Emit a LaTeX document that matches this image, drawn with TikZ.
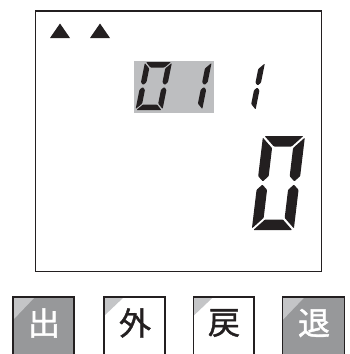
\documentclass[tikz,border=0pt]{standalone}
\usepackage{fontspec}
\newfontfamily\jpfont{Noto Sans CJK JP}[FakeBold=1.3]
\definecolor{lcdgray}{HTML}{BDBEC0}
\definecolor{keygray}{HTML}{97989A}
\definecolor{tabgray}{HTML}{C4C5C7}
\definecolor{inkblack}{HTML}{231F20}

% segmentos del digito (coordenadas locales, y hacia abajo)
\newcommand{\segA}{\fill[seg] (\sg,0) -- (\dw-\sg,0) -- (\dw-\dt-\sg,\dt) -- (\dt+\sg,\dt) -- cycle;}
\newcommand{\segB}{\fill[seg] (\dw,\sg) -- (\dw,\dh/2-\sg-\dt/2) -- (\dw-\dt/2,\dh/2-\sg) -- (\dw-\dt,\dh/2-\sg-\dt/2) -- (\dw-\dt,\dt+\sg) -- cycle;}
\newcommand{\segC}{\fill[seg] (\dw-\dt/2,\dh/2+\sg) -- (\dw,\dh/2+\sg+\dt/2) -- (\dw,\dh-\sg) -- (\dw-\dt,\dh-\dt-\sg) -- (\dw-\dt,\dh/2+\sg+\dt/2) -- cycle;}
\newcommand{\segD}{\fill[seg] (\dt+\sg,\dh-\dt) -- (\dw-\dt-\sg,\dh-\dt) -- (\dw-\sg,\dh) -- (\sg,\dh) -- cycle;}
\newcommand{\segE}{\fill[seg] (0,\dh/2+\sg+\dt/2) -- (\dt/2,\dh/2+\sg) -- (\dt,\dh/2+\sg+\dt/2) -- (\dt,\dh-\dt-\sg) -- (0,\dh-\sg) -- cycle;}
\newcommand{\segF}{\fill[seg] (0,\sg) -- (\dt,\dt+\sg) -- (\dt,\dh/2-\sg-\dt/2) -- (\dt/2,\dh/2-\sg) -- (0,\dh/2-\sg-\dt/2) -- cycle;}
\newcommand{\smalldigit}{\def\dw{27}\def\dh{48}\def\dt{5.5}\def\sg{1}}

\begin{document}
\begin{tikzpicture}[x=1pt,y=-1pt,
    seg/.style={fill=inkblack, rounded corners=0.8pt},
    keybox/.style={draw=inkblack, line width=1.1pt},
    keylabel/.style={font=\jpfont\fontsize{32}{32}\selectfont, inner sep=0pt}]
    \useasboundingbox (0,0) rectangle (350,354); %limites de la imagen
    \clip (0,0) rectangle (350,354);
    \draw[line width=1.4pt, draw=inkblack] (35.7,11) rectangle (321.7,271.7); %pantalla
    \fill[inkblack] (50,38) -- (60,23.5) -- (70,38) -- cycle; %marca 1
    \fill[inkblack] (90,38) -- (100,23.5) -- (110,38) -- cycle; %marca 2
    \fill[lcdgray] (134,61) rectangle (213.7,112.7); %fondo resaltado
    \begin{scope}[shift={(145,62)}, xslant=0.2] \smalldigit \segA\segB\segC\segD\segE\segF \end{scope} %0 pequeno
    \begin{scope}[shift={(184.7,62)}, xslant=0.2] \smalldigit \segB\segC \end{scope} %1 pequeno
    \begin{scope}[shift={(238,62.5)}, xslant=0.2] \smalldigit \segB\segC \end{scope} %1 suelto
    \begin{scope}[shift={(263,136)}, xslant=0.12] %0 grande
        \def\dw{42}\def\dh{94}\def\dt{10.5}\def\sg{1.6}
        \segA\segB\segC\segD\segE\segF
    \end{scope}
    % teclas
    \fill[keygray] (13,297) rectangle (74,362); %tecla 1
    \fill[tabgray] (13,297) -- (35,297) -- (13,320) -- cycle;
    \draw[keybox] (13,297) rectangle (74,362);
    \node[keylabel, text=white] (keyde) at (44,323) {出};
    \fill[tabgray] (104,297) -- (124,297) -- (104,316) -- cycle; %tecla 2
    \draw[keybox] (104,297) rectangle (165,362);
    \node[keylabel, text=inkblack] (keygai) at (135,323) {外};
    \fill[tabgray] (193.3,297) -- (213.3,297) -- (193.3,316) -- cycle; %tecla 3
    \draw[keybox] (193.3,297) rectangle (254,362);
    \node[keylabel, text=inkblack] (keyrei) at (224,323) {戻};
    \fill[keygray] (282.7,297) rectangle (344.3,362); %tecla 4
    \fill[tabgray] (282.7,297) -- (304.7,297) -- (282.7,320) -- cycle;
    \draw[keybox] (282.7,297) rectangle (344.3,362);
    \node[keylabel, text=white] (keytai) at (314,323) {退};
\end{tikzpicture}
\end{document}
